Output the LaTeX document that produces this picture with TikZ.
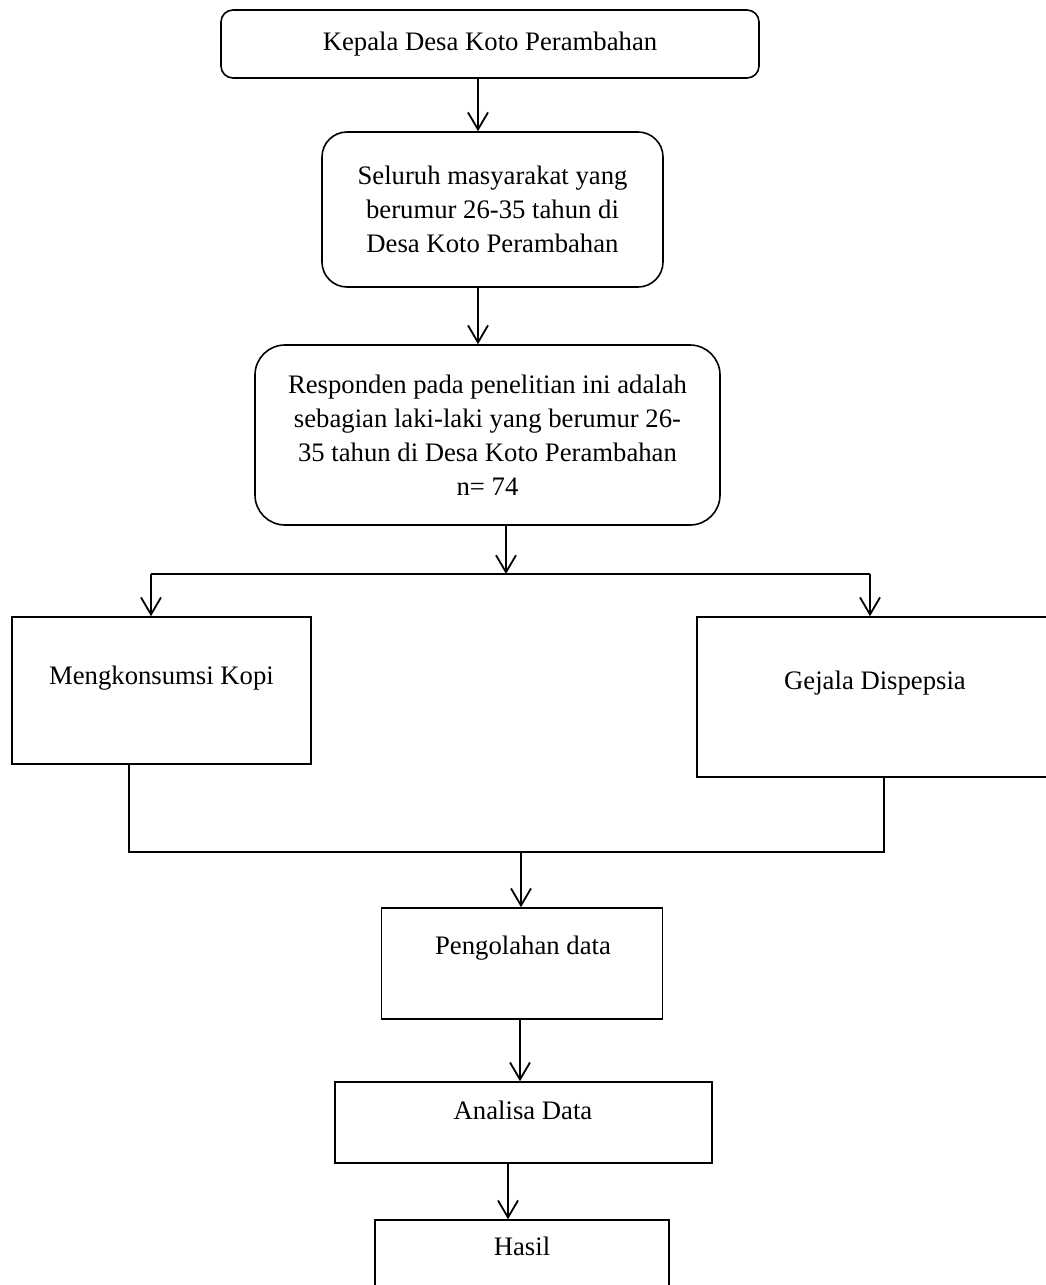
\documentclass[tikz,border=0pt]{standalone}
\usepackage{fontspec}
\setmainfont{Liberation Serif}
\usetikzlibrary{arrows.meta}
\begin{document}
\begin{tikzpicture}[x=1pt,y=-1pt,
  box/.style={draw, line width=1.6pt, inner sep=0pt},
  rbox/.style={box, align=center, font=\fontsize{26.7}{34}\selectfont},
  txt/.style={font=\fontsize{26.7}{34}\selectfont, align=center, inner sep=0pt},
  arr/.style={line width=1.8pt, -{Straight Barb[length=17pt,width=20pt,line width=1.8pt]}},
  ln/.style={line width=1.6pt}]
\useasboundingbox (0,0) rectangle (1046,1285);
\clip (0,0) rectangle (1046,1285);
% nodes
\node[rbox, rounded corners=12pt, minimum width=538pt, minimum height=68pt] (kepala) at (490,44) {Kepala Desa Koto Perambahan};
\node[rbox, rounded corners=25pt, minimum width=341pt, minimum height=155pt] (seluruh) at (492.5,209.5)
  {Seluruh masyarakat yang\\berumur 26-35 tahun di\\Desa Koto Perambahan};
\node[rbox, rounded corners=30pt, minimum width=465pt, minimum height=180pt] (responden) at (487.5,435)
  {Responden pada penelitian ini adalah\\sebagian laki-laki yang berumur 26-\\35 tahun di Desa Koto Perambahan\\n= 74};
\node[box, minimum width=299pt, minimum height=147pt] (mengk) at (161.5,690.5) {};
\node[txt] (mengkt) at (161.5,678) {Mengkonsumsi Kopi};
\node[box, minimum width=363pt, minimum height=160pt] (gejala) at (878.5,697) {};
\node[txt] (gejalat) at (875,683) {Gejala Dispepsia};
\node[box, minimum width=281pt, minimum height=111pt] (olah) at (522,963.5) {};
\node[txt] (olaht) at (523,948) {Pengolahan data};
\node[box, minimum width=377pt, minimum height=81pt] (analisa) at (523.5,1122.5) {};
\node[txt] (analisat) at (523,1110) {Analisa Data};
\node[box, minimum width=294pt, minimum height=200pt] (hasil) at (522,1320) {};
\node[txt] (hasilt) at (522,1246) {Hasil};
% coordinates
\coordinate (split) at (506,574);
\coordinate (sl) at (151,574);
\coordinate (sr) at (870,574);
\coordinate (jl) at (129,852);
\coordinate (jr) at (884,852);
\coordinate (jm) at (521,852);
% connectors
\draw[arr] ([xshift=-12pt]kepala.south) -- ([xshift=-12pt]kepala.south |- seluruh.north);
\draw[arr] ([xshift=-14.5pt]seluruh.south) -- ([xshift=-14.5pt]seluruh.south |- responden.north);
\draw[arr] ([xshift=18.5pt]responden.south) -- (split);
\draw[ln] (sl) -- (sr);
\draw[arr] (sl) -- (sl |- mengk.north);
\draw[arr] (sr) -- (sr |- gejala.north);
\draw[ln] (mengk.south -| jl) -- (jl) -- (jr) -- (gejala.south -| jr);
\draw[arr] (jm) -- (jm |- olah.north);
\draw[arr] ([xshift=-2pt]olah.south) -- ([xshift=-2pt]olah.south |- analisa.north);
\draw[arr] ([xshift=-15.5pt]analisa.south) -- ([xshift=-15.5pt]analisa.south |- hasil.north);
\end{tikzpicture}
\end{document}
